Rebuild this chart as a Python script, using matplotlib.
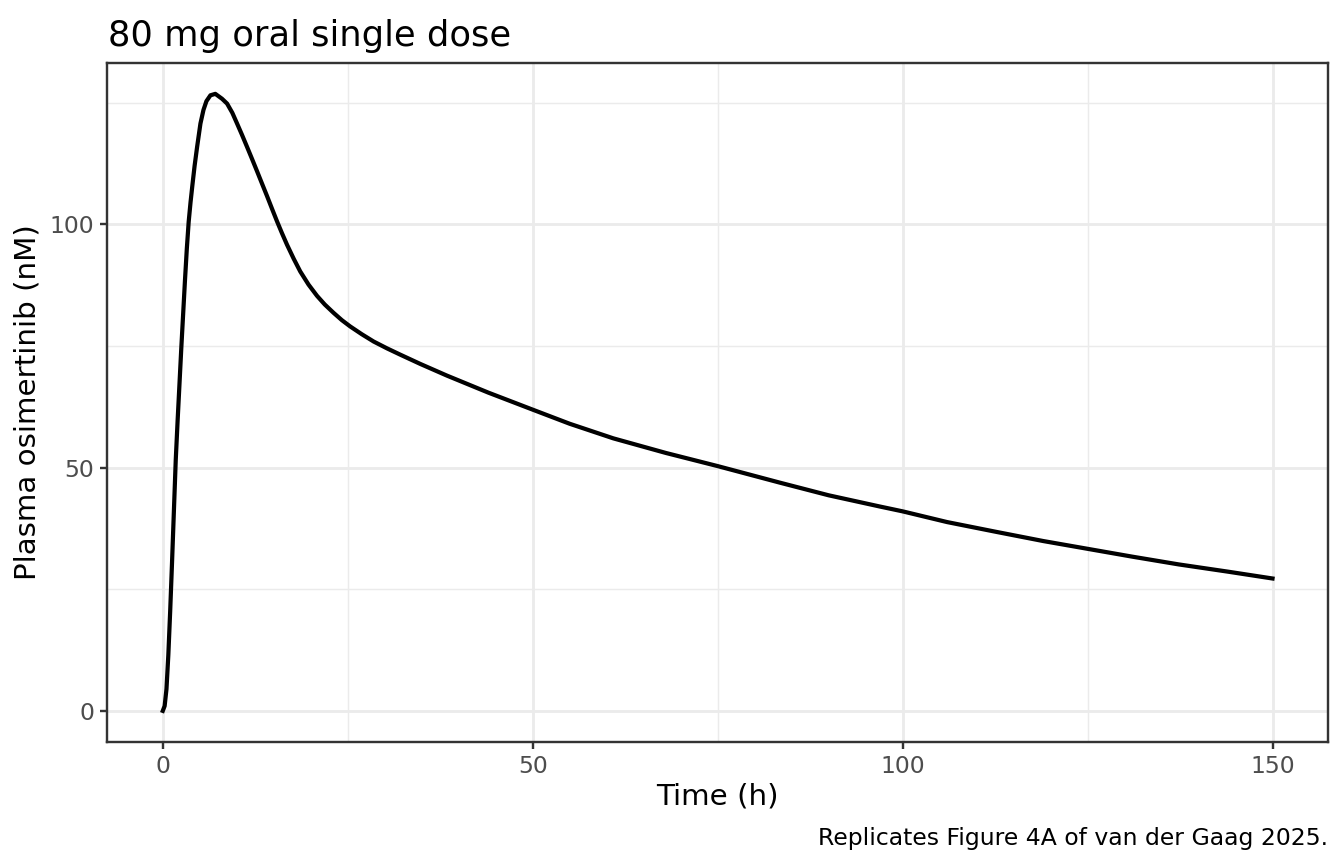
import matplotlib
matplotlib.use("Agg")
import matplotlib.pyplot as plt
from matplotlib.ticker import MultipleLocator

# Data
time_h = [0, 0.25, 0.5, 0.75, 1.0, 1.25, 1.5, 1.75, 2.0, 2.25, 2.5, 2.75, 3.0, 3.25,
          3.5, 3.75, 4.0, 4.3, 4.64, 5.09, 5.5, 5.9, 6.44, 7.1,
          8.0, 8.69, 9.4, 10.04, 10.7, 11.39, 12.07, 12.74, 13.4, 14.09, 14.76, 15.44,
          16.1, 16.79, 17.7, 18.58, 19.7, 20.84, 21.9, 23.08, 24.2, 25.33, 26.9, 28.5,
          30.3, 32.1, 34.8, 38.4, 44.0, 50.0, 55.0, 60.9, 68.0, 75.0, 83.4, 90.0,
          96.9, 100.0, 106.0, 112.6, 119.0, 125.0, 131.0, 137.3, 144.0, 150.0]
conc_nM = [0.0, 1.0, 4.5, 11.5, 20.5, 30.5, 41.0, 51.5, 59.5, 67.0, 74.5, 81.5, 88.5, 95.0,
           100.5, 104.5, 108.0, 112.0, 115.9, 120.7, 123.5, 125.3, 126.5, 126.8,
           125.8, 124.8, 122.9, 120.7, 118.4, 115.9, 113.4, 110.9, 108.4, 105.8, 103.2, 100.6,
           98.2, 95.8, 92.9, 90.3, 87.6, 85.3, 83.5, 81.8, 80.3, 79.0, 77.4, 75.9,
           74.5, 73.2, 71.3, 68.9, 65.4, 61.9, 59.0, 56.0, 53.0, 50.3, 46.9, 44.3,
           42.0, 41.0, 38.8, 36.8, 34.9, 33.3, 31.7, 30.1, 28.6, 27.2]

title = "80 mg oral single dose"
xlabel = "Time (h)"
ylabel = "Plasma osimertinib (nM)"
caption = "Replicates Figure 4A of van der Gaag 2025."
x_ticks = [0, 50, 100, 150]
y_ticks = [0, 50, 100]

plt.rcParams['font.family'] = ['DejaVu Sans']

W, H = 1344, 864
fig = plt.figure(figsize=(W/144, H/144), dpi=144)
L, R, T, B = 107.3, 1328.0, 63.0, 741.7
ax = fig.add_axes([L/W, 1-B/H, (R-L)/W, (B-T)/H])

ax.plot(time_h, conc_nM, color='black', lw=2.1, solid_joinstyle='round', zorder=3)

xmin, xmax = 0, 150
ymin, ymax = 0, max(conc_nM)
xr = xmax - xmin
yr = ymax - ymin
ax.set_xlim(xmin - 0.05*xr, xmax + 0.05*xr)
ax.set_ylim(ymin - 0.05*yr, ymax + 0.05*yr)

ax.set_xticks(x_ticks)
ax.set_yticks(y_ticks)
ax.xaxis.set_minor_locator(MultipleLocator(25))
ax.yaxis.set_minor_locator(MultipleLocator(25))

ax.grid(which='major', color='#EBEBEB', lw=1.42, zorder=0)
ax.grid(which='minor', color='#EBEBEB', lw=0.71, zorder=0)
ax.set_axisbelow(True)

for s in ax.spines.values():
    s.set_color('#333333')
    s.set_linewidth(1.2)

ax.tick_params(which='major', length=3.65, width=1.2, color='#333333',
               labelsize=11.73, labelcolor='#4D4D4D', pad=2.93)
ax.tick_params(which='minor', length=0)

fig.text((L+R)/2/W, 1-797/H, xlabel, ha='center', va='center', fontsize=14.67, color='black')
fig.text(27.5/W, 1-(T+B)/2/H, ylabel, ha='center', va='center', rotation=90,
         fontsize=14.67, color='black')
fig.text(108/W, 1-46/H, title, ha='left', va='baseline', fontsize=17.6, color='black')
fig.text(R/W, 1-838/H, caption, ha='right', va='center', fontsize=11.73, color='black')

fig.savefig("out.png", dpi=144, facecolor='white')
